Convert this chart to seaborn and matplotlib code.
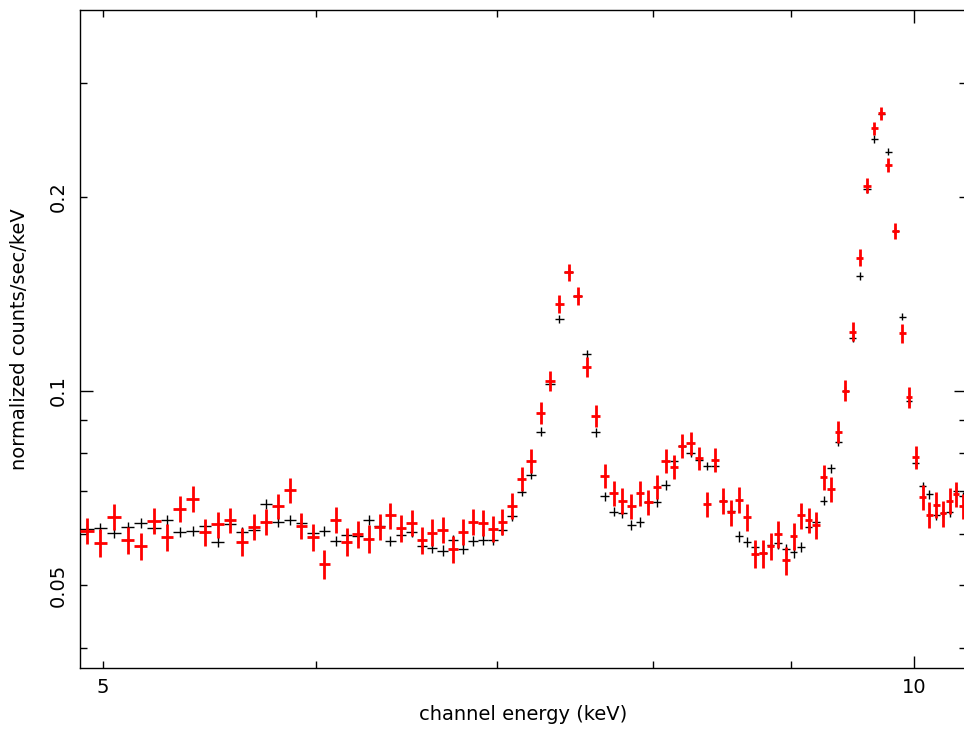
import seaborn as sns
import matplotlib.pyplot as plt
from matplotlib.ticker import FixedLocator, FixedFormatter, NullFormatter

# channel energies (keV), bin centres; half bin width
energy = [4.9320, 4.9904, 5.0488, 5.1072, 5.1656, 5.2240, 5.2824, 5.3408, 5.3992, 5.4576,
          5.5160, 5.5744, 5.6328, 5.6912, 5.7496, 5.8080, 5.8664, 5.9248, 5.9832, 6.0416,
          6.1000, 6.1584, 6.2168, 6.2752, 6.3336, 6.3920, 6.4504, 6.5088, 6.5672, 6.6256,
          6.6840, 6.7424, 6.8008, 6.8592, 6.9176, 6.9760, 7.0344, 7.0928, 7.1512, 7.2096,
          7.2680, 7.3264, 7.3848, 7.4432, 7.5016, 7.5600, 7.6184, 7.6768, 7.7352, 7.7936,
          7.8520, 7.9104, 7.9688, 8.0272, 8.0856, 8.1440, 8.2024, 8.2608, 8.3192, 8.3776,
          8.4360, 8.4944, 8.5528, 8.6112, 8.6696, 8.7280, 8.7864, 8.8448, 8.9032, 8.9616,
          9.0200, 9.0784, 9.1368, 9.1952, 9.2536, 9.3120, 9.3704, 9.4288, 9.4872, 9.5456,
          9.6040, 9.6624, 9.7208, 9.7792, 9.8376, 9.8960, 9.9544, 10.0128, 10.0712, 10.1296,
          10.1880, 10.2464, 10.3048, 10.3632, 10.4216]
half_width = [0.0292] * len(energy)

# black data set
black = [0.0611, 0.0614, 0.0602, 0.0616, 0.0624, 0.0613, 0.0631, 0.0604, 0.0607, 0.0618,
         0.0583, 0.0621, 0.0604, 0.0609, 0.0668, 0.0626, 0.0630, 0.0624, 0.0602, 0.0607,
         0.0585, 0.0597, 0.0596, 0.0631, 0.0618, 0.0585, 0.0598, 0.0605, 0.0575, 0.0571,
         0.0565, 0.0587, 0.0569, 0.0585, 0.0588, 0.0588, 0.0609, 0.0640, 0.0697, 0.0741,
         0.0865, 0.1024, 0.1292, 0.1528, 0.1404, 0.1141, 0.0862, 0.0686, 0.0650, 0.0646,
         0.0620, 0.0627, 0.0672, 0.0672, 0.0715, 0.0778, 0.0820, 0.0801, 0.0782, 0.0765,
         0.0765, 0.0676, 0.0652, 0.0595, 0.0583, 0.0572, 0.0560, 0.0577, 0.0580, 0.0568,
         0.0562, 0.0573, 0.0615, 0.0627, 0.0676, 0.0759, 0.0834, 0.1001, 0.1207, 0.1509,
         0.2055, 0.2459, 0.2686, 0.2350, 0.1772, 0.1304, 0.0963, 0.0773, 0.0712, 0.0691,
         0.0642, 0.0646, 0.0648, 0.0700, 0.0686]
black_err = [0.0011] * 39 + [0.0012,
             0.0013, 0.0015, 0.0018, 0.0021, 0.0020, 0.0016, 0.0013, 0.0011, 0.0011, 0.0011,
             0.0011, 0.0011, 0.0011, 0.0011, 0.0012, 0.0012, 0.0013, 0.0012, 0.0012, 0.0012,
             0.0012, 0.0011, 0.0011, 0.0011, 0.0011, 0.0011, 0.0011, 0.0011, 0.0011, 0.0011,
             0.0011, 0.0011, 0.0011, 0.0011, 0.0011, 0.0012, 0.0013, 0.0015, 0.0017, 0.0021,
             0.0028, 0.0033, 0.0036, 0.0032, 0.0024, 0.0018, 0.0014, 0.0012, 0.0011, 0.0011,
             0.0011, 0.0011, 0.0011, 0.0011, 0.0011]

# red data set
red = [0.0607, 0.0581, 0.0638, 0.0587, 0.0574, 0.0629, 0.0593, 0.0657, 0.0680, 0.0604,
       0.0621, 0.0630, 0.0584, 0.0616, 0.0626, 0.0663, 0.0702, 0.0618, 0.0593, 0.0539,
       0.0631, 0.0583, 0.0600, 0.0590, 0.0616, 0.0641, 0.0613, 0.0624, 0.0587, 0.0603,
       0.0609, 0.0568, 0.0605, 0.0627, 0.0625, 0.0611, 0.0627, 0.0664, 0.0731, 0.0779,
       0.0924, 0.1037, 0.1364, 0.1528, 0.1404, 0.1088, 0.0915, 0.0739, 0.0694, 0.0676,
       0.0662, 0.0694, 0.0672, 0.0710, 0.0779, 0.0762, 0.0822, 0.0830, 0.0786, 0.0668,
       0.0782, 0.0676, 0.0648, 0.0678, 0.0637, 0.0559, 0.0560, 0.0575, 0.0600, 0.0546,
       0.0595, 0.0641, 0.0630, 0.0619, 0.0735, 0.0704, 0.0865, 0.1001, 0.1236, 0.1610,
       0.2082, 0.2555, 0.2696, 0.2241, 0.1772, 0.1229, 0.0978, 0.0789, 0.0684, 0.0642,
       0.0666, 0.0646, 0.0676, 0.0692, 0.0662]
red_err = [0.0029, 0.0029, 0.0030, 0.0029, 0.0028, 0.0029, 0.0029, 0.0030, 0.0031, 0.0029,
           0.0029, 0.0029, 0.0029, 0.0029, 0.0029, 0.0030, 0.0031, 0.0029, 0.0029, 0.0028,
           0.0030, 0.0029, 0.0029, 0.0029, 0.0029, 0.0030, 0.0029, 0.0029, 0.0029, 0.0029,
           0.0029, 0.0028, 0.0029, 0.0029, 0.0029, 0.0029, 0.0029, 0.0030, 0.0032, 0.0033,
           0.0036, 0.0038, 0.0043, 0.0046, 0.0044, 0.0039, 0.0035, 0.0032, 0.0031, 0.0031,
           0.0030, 0.0031, 0.0031, 0.0031, 0.0033, 0.0032, 0.0034, 0.0034, 0.0033, 0.0030,
           0.0033, 0.0031, 0.0030, 0.0031, 0.0030, 0.0028, 0.0028, 0.0028, 0.0029, 0.0027,
           0.0029, 0.0030, 0.0029, 0.0029, 0.0032, 0.0031, 0.0034, 0.0037, 0.0041, 0.0047,
           0.0053, 0.0059, 0.0061, 0.0055, 0.0049, 0.0041, 0.0037, 0.0033, 0.0031, 0.0030,
           0.0030, 0.0030, 0.0031, 0.0031, 0.0030]

X_LABEL = "channel energy (keV)"
Y_LABEL = "normalized counts/sec/keV"
X_TICKS = [5, 6, 7, 8, 9]
X_TICK_LABELS = ["5", "", "", "", ""]
Y_TICKS = [0.04, 0.05, 0.06, 0.07, 0.08, 0.09, 0.2, 0.3]
Y_TICK_LABELS = ["", "0.05", "", "", "", "", "0.2", ""]

sns.set_theme(style="ticks")
plt.rcParams['font.family'] = ['DejaVu Sans']

fig = plt.figure(figsize=(9.64, 7.29), dpi=100)
ax = fig.add_axes([80 / 964, 1 - 668 / 729, 886 / 964, 658 / 729])

ax.errorbar(energy, black, xerr=half_width, yerr=black_err, fmt='none',
            ecolor='black', elinewidth=1.0, capsize=0, zorder=2)
ax.errorbar(energy, red, xerr=half_width, yerr=red_err, fmt='none',
            ecolor='#ff0000', elinewidth=2.0, capsize=0, zorder=3)

ax.set_xscale('log')
ax.set_yscale('log')
ax.set_xlim(4.904, 10.451)
ax.set_ylim(0.03718, 0.3896)

ax.xaxis.set_major_locator(FixedLocator([10]))
ax.xaxis.set_major_formatter(FixedFormatter(["10"]))
ax.xaxis.set_minor_locator(FixedLocator(X_TICKS))
ax.xaxis.set_minor_formatter(FixedFormatter(X_TICK_LABELS))
ax.yaxis.set_major_locator(FixedLocator([0.1]))
ax.yaxis.set_major_formatter(FixedFormatter(["0.1"]))
ax.yaxis.set_minor_locator(FixedLocator(Y_TICKS))
ax.yaxis.set_minor_formatter(FixedFormatter(Y_TICK_LABELS))

ax.tick_params(which='both', direction='in', top=True, right=True,
               colors='black', width=1.0, labelsize=14)
ax.tick_params(which='major', length=9)
ax.tick_params(which='minor', length=5)
ax.tick_params(axis='x', which='both', pad=7)
ax.tick_params(axis='y', which='both', pad=9, labelrotation=90)
for lbl in ax.get_yticklabels(which='both'):
    lbl.set_va('center')

for side in ['left', 'right', 'top', 'bottom']:
    ax.spines[side].set_color('black')
    ax.spines[side].set_linewidth(1.0)

ax.set_xlabel(X_LABEL, fontsize=14, color='black')
ax.set_ylabel(Y_LABEL, fontsize=14, color='black')
ax.xaxis.set_label_coords(0.5, -0.056)
ax.yaxis.set_label_coords(-0.058, 0.5)

plt.savefig("out.png", dpi=100, facecolor='white')
